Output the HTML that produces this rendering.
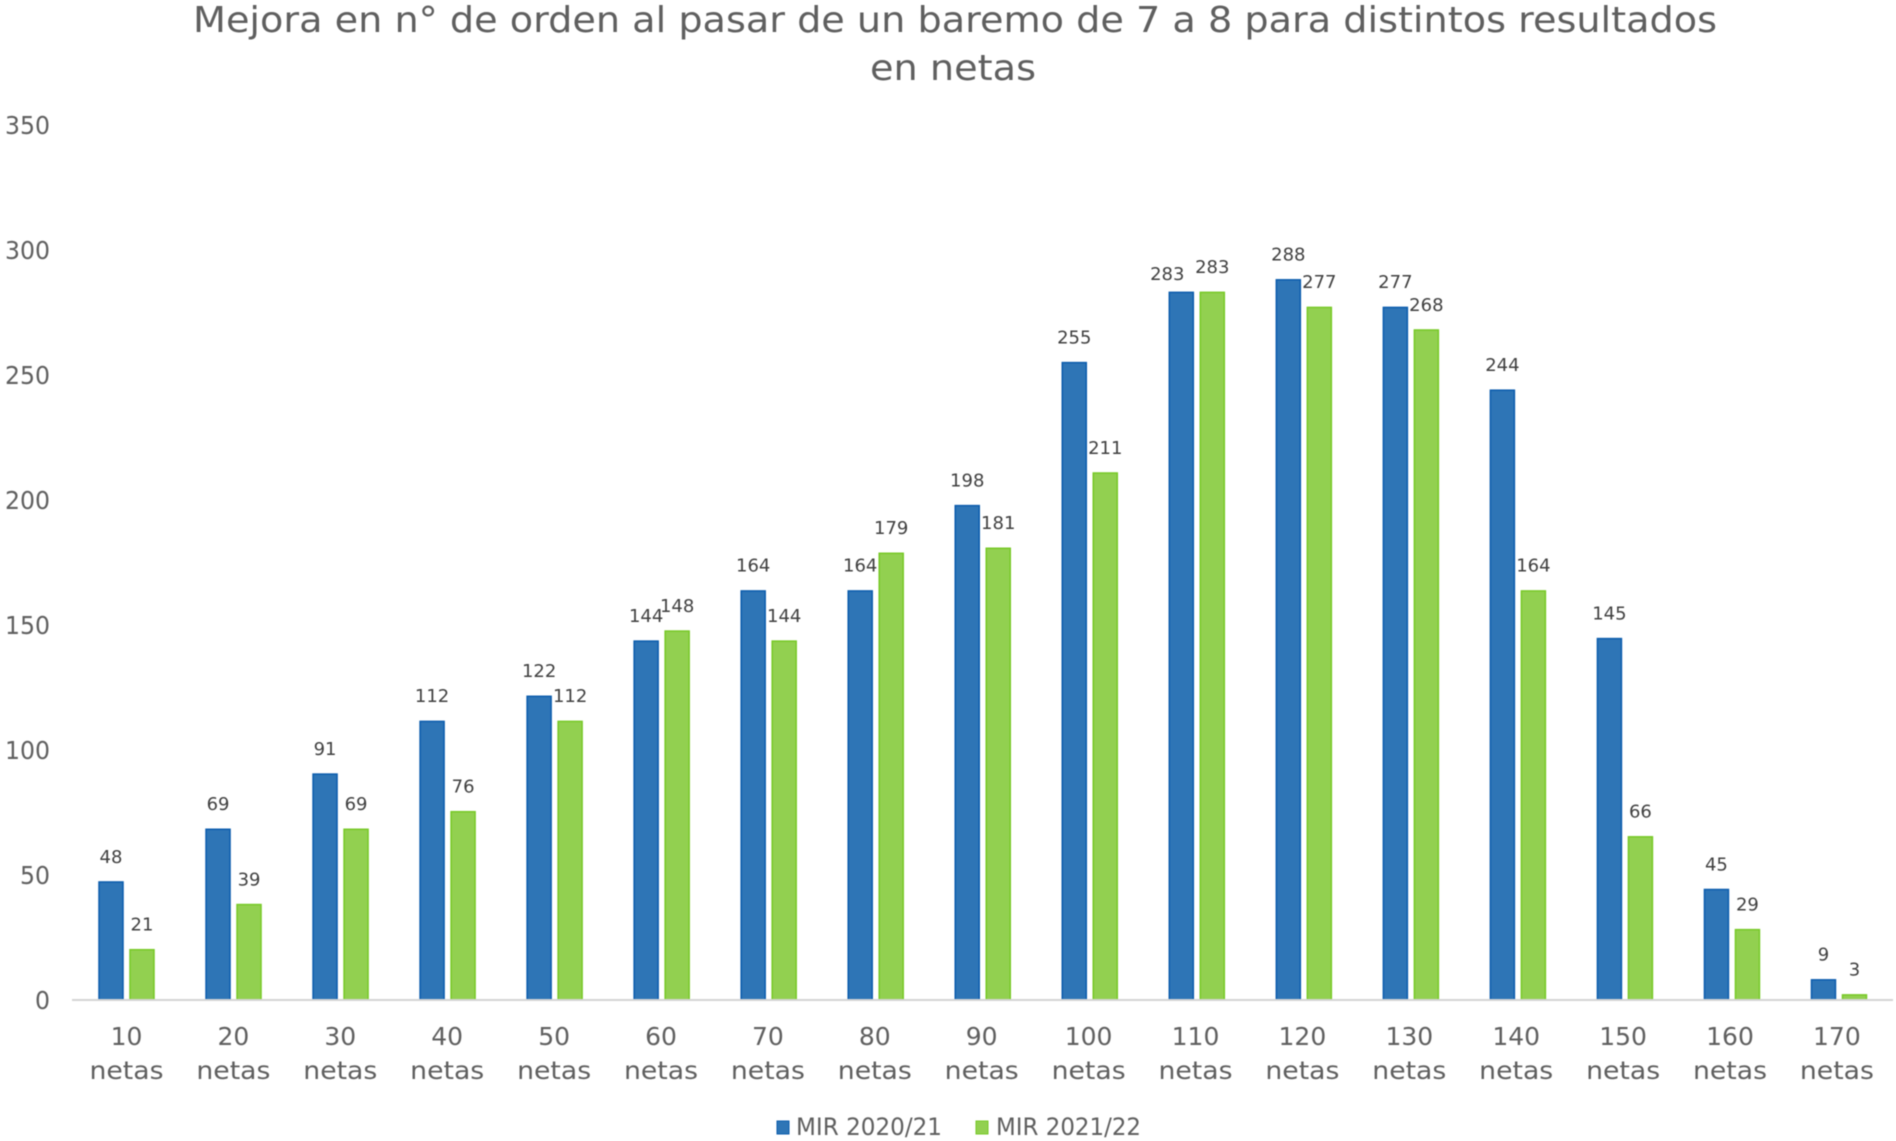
<!DOCTYPE html>
<html lang="es">
<head>
<meta charset="utf-8">
<title>Mejora en n° de orden</title>
<style>
  html, body { margin: 0; padding: 0; background: #fff; overflow: hidden; }
  svg { display: block; font-family: "DejaVu Sans", "Liberation Sans", sans-serif; filter: blur(0.5px); }
  text { fill: #5f5f5f; }
</style>
</head>
<body>
<svg id="chart" xmlns="http://www.w3.org/2000/svg" width="1896" height="1141" viewBox="0 0 1896 1141">
  <rect x="0" y="0" width="1896" height="1141" fill="#ffffff"></rect>
  <g>
    <text x="955" y="32" font-size="36" text-anchor="middle" textLength="1524" lengthAdjust="spacingAndGlyphs">Mejora en n° de orden al pasar de un baremo de 7 a 8 para distintos resultados</text>
    <text x="953" y="80" font-size="36" text-anchor="middle" textLength="166" lengthAdjust="spacingAndGlyphs">en netas</text>
  </g>
  <g id="y-axis"></g>
  <g id="bars"></g>
  <line x1="72" y1="1000" x2="1893" y2="1000" stroke="#d4d4d4" stroke-width="2"></line>
  <g id="x-axis"></g>
  <g id="value-labels"></g>
  <g>
    <g>
      <rect x="777" y="1121" width="12" height="13" fill="#2e75b6" stroke="#0b5cad" stroke-width="1"></rect>
      <text x="796" y="1135" font-size="24" textLength="146" lengthAdjust="spacingAndGlyphs">MIR 2020/21</text>
    </g>
    <g>
      <rect x="976" y="1121" width="12" height="13" fill="#92d050" stroke="#77c926" stroke-width="1"></rect>
      <text x="996" y="1135" font-size="24" textLength="145" lengthAdjust="spacingAndGlyphs">MIR 2021/22</text>
    </g>
  </g>
</svg>
<script>
const categories = ["10", "20", "30", "40", "50", "60", "70", "80", "90", "100", "110", "120", "130", "140", "150", "160", "170"];
const mir2020 = [48, 69, 91, 112, 122, 144, 164, 164, 198, 255, 283, 288, 277, 244, 145, 45, 9];
const mir2021 = [21, 39, 69, 76, 112, 148, 144, 179, 181, 211, 283, 277, 268, 164, 66, 29, 3];
const yTicks = [0, 50, 100, 150, 200, 250, 300, 350];

const NS = "http://www.w3.org/2000/svg";
const tickY = function (v) { return 1000 - 2.5 * v; };
const barY = function (v) { return 1002.4 - 2.509 * v; };
const xCenter = function (i) { return 126.5 + 107.03 * i; };
const xLabelCenter = function (i) { return 126.5 + 106.9 * i; };

function make(tag, attrs, parent, content) {
  const el = document.createElementNS(NS, tag);
  Object.keys(attrs).forEach(function (k) { el.setAttribute(k, attrs[k]); });
  if (content !== undefined) { el.textContent = content; }
  parent.appendChild(el);
  return el;
}

const yAxis = document.getElementById("y-axis");
const xAxis = document.getElementById("x-axis");
const barsGroup = document.getElementById("bars");
const valueLabels = document.getElementById("value-labels");

yTicks.forEach(function (tick) {
  const txt = String(tick);
  const el = make("text", { x: 50, y: tickY(tick) + 9, "font-size": 25, "text-anchor": "end", textLength: txt.length * 15, lengthAdjust: "spacingAndGlyphs" }, yAxis, txt);
  
  
});

categories.forEach(function (cat, i) {
  const c = xLabelCenter(i);
  const num = make("text", { x: c, y: 1045, "font-size": 25, "text-anchor": "middle" }, xAxis, cat);
  
  
  const word = make("text", { x: c, y: 1079, "font-size": 25, "text-anchor": "middle", textLength: 74, lengthAdjust: "spacingAndGlyphs" }, xAxis, "netas");
  
  
});

function drawSeries(values, offset, fill, stroke, seriesName) {
  values.forEach(function (v, i) {
    const x = xCenter(i) + offset;
    const top = barY(v);
    const bar = make("rect", { x: x, y: top, width: 24, height: 1000 - top, fill: fill, stroke: stroke, "stroke-width": 1.5 }, barsGroup);
    
    
    bar.setAttribute('data-series', seriesName);

    // The one label the source chart shifted to clear its neighbour.
    const shifted = seriesName === "mir-2020-21" && i === 10;
    const lx = x + 12 + (shifted ? -14 : 0);
    const ly = top - 19.2 + (shifted ? 7 : 0);
    const label = make("text", { x: lx, y: ly, "font-size": 18, "text-anchor": "middle" }, valueLabels, String(v));
    
    
    label.style.fill = "#404040";
  });
}

drawSeries(mir2020, -27.5, "#2e75b6", "#0b5cad", "mir-2020-21");
drawSeries(mir2021, 3.5, "#92d050", "#77c926", "mir-2021-22");
</script>
</body>
</html>
